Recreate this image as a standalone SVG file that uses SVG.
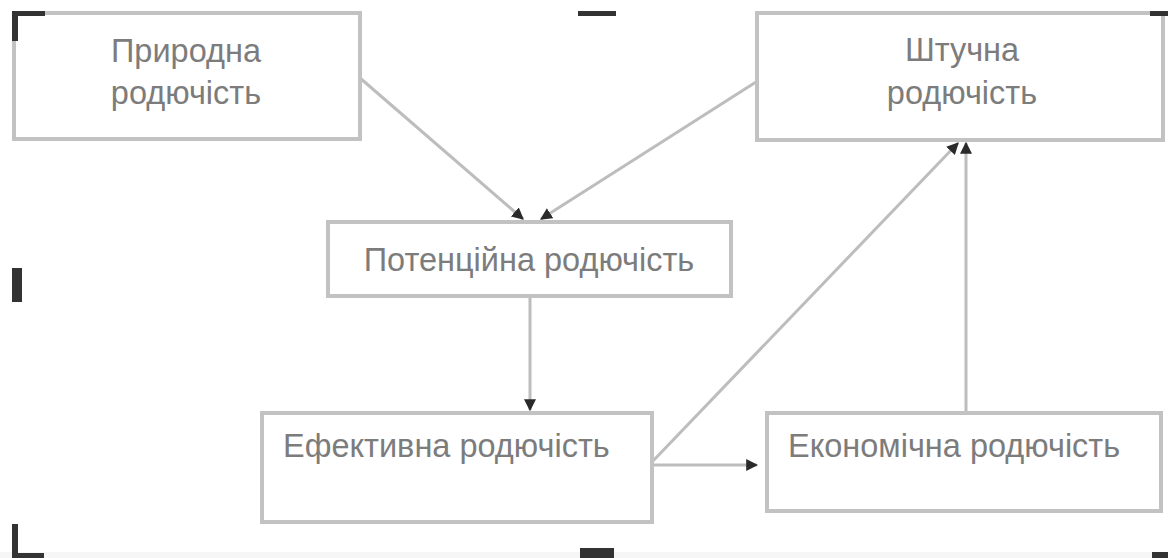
<svg xmlns="http://www.w3.org/2000/svg" width="1168" height="558" viewBox="0 0 1168 558">
<style>
.box{fill:#fff;stroke:#c2c2c2;stroke-width:4}
.t{font-family:"Liberation Sans",Arial,sans-serif;font-size:32.5px;fill:#7c7c7c}
.c{text-anchor:middle}
.ln{stroke:#bdbdbd;stroke-width:3;fill:none}
.mk{fill:#333}
</style>
<defs>
<marker id="ah" viewBox="0 0 10 10" refX="9" refY="5" markerWidth="4" markerHeight="4" orient="auto" markerUnits="strokeWidth">
<path d="M0,0 L10,5 L0,10 z" fill="#2a2a2a"/>
</marker>
</defs>
<rect width="1168" height="558" fill="#fff"/>
<rect x="0" y="552" width="1168" height="6" fill="#f6f6f6"/>
<g id="connectors">
<line class="ln" x1="360" y1="78" x2="523" y2="219" marker-end="url(#ah)"/>
<line class="ln" x1="756" y1="82" x2="541" y2="219" marker-end="url(#ah)"/>
<line class="ln" x1="530" y1="297" x2="530" y2="410" marker-end="url(#ah)"/>
<line class="ln" x1="652" y1="462" x2="958" y2="143" marker-end="url(#ah)"/>
<line class="ln" x1="652" y1="465" x2="757" y2="465" marker-end="url(#ah)"/>
<line class="ln" x1="966" y1="412" x2="966" y2="143" marker-end="url(#ah)"/>
</g>
<g id="node-pryrodna">
<rect class="box" x="14" y="13" width="346" height="126"/>
<text class="t c" x="186" y="62">Природна</text>
<text class="t c" x="186" y="104">родючість</text>
</g>
<g id="node-shtuchna">
<rect class="box" x="757" y="13" width="406" height="127"/>
<text class="t c" x="962" y="61">Штучна</text>
<text class="t c" x="962" y="104">родючість</text>
</g>
<g id="node-potentsiina">
<rect class="box" x="328" y="222" width="403" height="74"/>
<text class="t c" x="529" y="271">Потенційна родючість</text>
</g>
<g id="node-efektyvna">
<rect class="box" x="262" y="413" width="390" height="109"/>
<text class="t" x="283" y="457">Ефективна родючість</text>
</g>
<g id="node-ekonomichna">
<rect class="box" x="767" y="413" width="394" height="98"/>
<text class="t" x="788" y="457">Економічна родючість</text>
</g>
<g id="crop-marks" class="mk">
<rect x="12" y="11" width="33" height="5"/>
<rect x="12" y="11" width="6" height="30"/>
<rect x="12" y="268" width="10" height="34"/>
<rect x="578" y="11" width="38" height="5"/>
<rect x="1150" y="11" width="18" height="5"/>
<rect x="12" y="524" width="6" height="34"/>
<rect x="12" y="553" width="32" height="5"/>
<rect x="580" y="548" width="34" height="10"/>
<rect x="1152" y="552" width="16" height="6"/>
</g>
</svg>
